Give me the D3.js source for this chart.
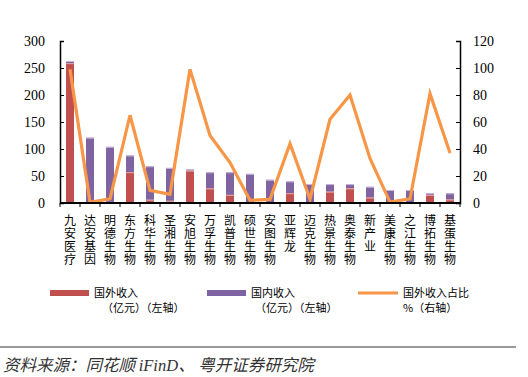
<!DOCTYPE html>
<html>
<head>
<meta charset="utf-8">
<script src="https://cdn.jsdelivr.net/npm/d3@7"></script>
<style>
  body { margin: 0; background: #fff; }
  svg { display: block; }
</style>
</head>
<body>
<div id="chart"></div>
<script>
const names = ["九安医疗","达安基因","明德生物","东方生物","科华生物","圣湘生物","安旭生物","万孚生物","凯普生物","硕世生物","安图生物","亚辉龙","迈克生物","热景生物","奥泰生物","新产业","美康生物","之江生物","博拓生物","基蛋生物"];
// 国外收入（亿元）
const foreign = [259, 1, 2, 57, 6, 4, 60, 27, 15, 1, 1.2, 18, 1, 21, 27, 10, 0.2, 0.7, 15, 6.5];
// 国内收入（亿元）
const domestic = [4, 120, 102, 31, 62, 61, 2, 30, 42, 53, 41.8, 22, 34, 14, 8, 20, 23.8, 23.3, 3, 11.5];
// 国外收入占比 %
const share = [99, 0.5, 3, 65, 9.4, 6.4, 99, 50, 30, 2, 2.7, 44, 3, 62, 80, 33, 0.7, 3, 81, 37];
const leftTicks = [0, 50, 100, 150, 200, 250, 300];
const rightTicks = [0, 20, 40, 60, 80, 100, 120];

const width = 528, height = 377;
const mLeft = 60, mRight = 460, mTop = 41, mBottom = 203;

const svg = d3.select("#chart").append("svg")
  .attr("width", width).attr("height", height);

const xb = d3.scaleBand().domain(names).range([mLeft, mRight]);
const yL = d3.scaleLinear().domain([0, 300]).range([mBottom, mTop]);
const yR = d3.scaleLinear().domain([0, 120]).range([mBottom, mTop]);

const red = "#C0504D", purple = "#8064A2", orange = "#F79646";

// bars: foreign at bottom, domestic on top
const g = svg.append("g");
names.forEach((n, i) => {
  const bx = xb(n) + xb.bandwidth() / 2 - 4;
  g.append("rect").attr("x", bx).attr("width", 8)
    .attr("y", yL(foreign[i])).attr("height", yL(0) - yL(foreign[i]))
    .attr("fill", red);
  g.append("rect").attr("x", bx).attr("width", 8)
    .attr("y", yL(foreign[i] + domestic[i])).attr("height", yL(foreign[i]) - yL(foreign[i] + domestic[i]))
    .attr("fill", purple);
  g.append("line").attr("x1", bx).attr("x2", bx + 8)
    .attr("y1", yL(foreign[i] + domestic[i]) + 0.5).attr("y2", yL(foreign[i] + domestic[i]) + 0.5)
    .attr("stroke", "#c9b8dd").attr("stroke-width", 1);
  if (foreign[i] > 3 && domestic[i] > 1) {
    g.append("line").attr("x1", bx).attr("x2", bx + 8)
      .attr("y1", yL(foreign[i]) + 0.5).attr("y2", yL(foreign[i]) + 0.5)
      .attr("stroke", "#e6a3a1").attr("stroke-width", 1);
  }
});

// line
const line = d3.line()
  .x((d, i) => xb(names[i]) + xb.bandwidth() / 2)
  .y(d => yR(d));
svg.append("path").datum(share)
  .attr("d", line)
  .attr("fill", "none")
  .attr("stroke", orange)
  .attr("stroke-width", 3.2)
  .attr("stroke-linejoin", "miter");

// axes
const axL = svg.append("g").attr("transform", `translate(${mLeft},0)`)
  .call(d3.axisRight(yL).tickValues(leftTicks).tickSize(4).tickFormat(d3.format("d")));
axL.selectAll("text").attr("x", -15).attr("text-anchor", "end");
const axR = svg.append("g").attr("transform", `translate(${mRight},0)`)
  .call(d3.axisLeft(yR).tickValues(rightTicks).tickSize(4).tickFormat(d3.format("d")));
axR.selectAll("text").attr("x", 13).attr("text-anchor", "start");
[axL, axR].forEach(a => {
  a.select(".domain").attr("stroke", "#000").attr("stroke-width", 1.5);
  a.selectAll(".tick line").attr("stroke", "#000");
  a.selectAll("text").attr("font-family", "'Liberation Serif', serif")
    .attr("font-size", 14).attr("fill", "#000");
});

// x axis baseline with boundary ticks
const axX = svg.append("g").attr("transform", `translate(0,${mBottom})`);
axX.append("line").attr("x1", mLeft).attr("x2", mRight).attr("stroke", "#000").attr("stroke-width", 2);
axX.selectAll("line.tk").data(d3.range(names.length + 1)).join("line")
  .attr("class", "tk")
  .attr("x1", i => mLeft + i * xb.step()).attr("x2", i => mLeft + i * xb.step())
  .attr("y1", 0).attr("y2", 4).attr("stroke", "#000");

// vertical category labels, one character per row
const lab = svg.append("g").attr("font-family", "'Noto Sans CJK SC', sans-serif")
  .attr("font-size", 12).attr("fill", "#000").attr("text-anchor", "middle");
names.forEach(n => {
  const cx = xb(n) + xb.bandwidth() / 2;
  Array.from(n).forEach((c, k) => {
    lab.append("text").attr("x", cx).attr("y", 225 + k * 13).text(c);
  });
});

// legend
const lg = svg.append("g").attr("font-family", "'Noto Sans CJK SC', sans-serif")
  .attr("font-size", 11).attr("fill", "#000");
const items = [
  { c: red, type: "rect", x: 50, l1: "国外收入", l2: "（亿元）（左轴）", tx: 94, tx2: 102 },
  { c: purple, type: "rect", x: 207, l1: "国内收入", l2: "（亿元）（左轴）", tx: 251, tx2: 255 },
  { c: orange, type: "line", x: 358, l1: "国外收入占比", l2: "%（右轴）", tx: 403, tx2: 403 }
];
items.forEach(it => {
  if (it.type === "rect") {
    lg.append("rect").attr("x", it.x).attr("y", 290).attr("width", 39).attr("height", 6).attr("fill", it.c);
  } else {
    lg.append("line").attr("x1", it.x).attr("x2", it.x + 40).attr("y1", 293).attr("y2", 293)
      .attr("stroke", it.c).attr("stroke-width", 3);
  }
  lg.append("text").attr("x", it.tx).attr("y", 297).text(it.l1);
  lg.append("text").attr("x", it.tx2).attr("y", 312).text(it.l2);
});

// source
svg.append("line").attr("x1", 0).attr("x2", 516).attr("y1", 347).attr("y2", 347)
  .attr("stroke", "#999").attr("stroke-width", 2);
const src = svg.append("text").attr("x", 3).attr("y", 371)
  .attr("font-family", "'Noto Sans CJK SC', sans-serif").attr("font-style", "italic")
  .attr("font-size", 16.5).attr("fill", "#333");
src.append("tspan").text("资料来源：同花顺 ");
src.append("tspan").attr("font-family", "'Liberation Serif', serif").text("iFinD");
src.append("tspan").text("、 粤开证券研究院");
</script>
</body>
</html>
